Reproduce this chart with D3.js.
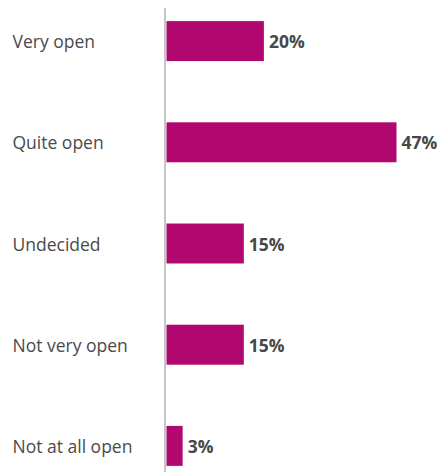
<!DOCTYPE html>
<html><head><meta charset="utf-8">
<script src="https://cdn.jsdelivr.net/npm/d3@7"></script>
<style>html,body{margin:0;padding:0;background:#fff;}</style>
</head><body>
<script>
const categories = ["Very open", "Quite open", "Undecided", "Not very open", "Not at all open"];
const values = [19.9, 47.0, 15.8, 15.8, 3.3];
const valueLabels = ["20%", "47%", "15%", "15%", "3%"];

const W = 441, H = 472;
const axisX = 165;
const svg = d3.select("body").append("svg").attr("width", W).attr("height", H);

const x = d3.scaleLinear().domain([0, 47]).range([axisX + 1.5, axisX + 1.5 + 230]);
const y = d3.scaleBand().domain(categories).range([-9.5, 496.5]).paddingInner(0.605).paddingOuter(0.3025);

const font = "'Open Sans', sans-serif";

svg.selectAll("rect.bar").data(categories).join("rect")
  .attr("class", "bar")
  .attr("x", x(0))
  .attr("y", d => y(d))
  .attr("width", (d, i) => x(values[i]) - x(0))
  .attr("height", y.bandwidth())
  .attr("fill", "#b0086e");

svg.append("line")
  .attr("x1", axisX).attr("x2", axisX)
  .attr("y1", 8).attr("y2", H)
  .attr("stroke", "#c6c6c6").attr("stroke-width", 2);

svg.selectAll("text.cat").data(categories).join("text")
  .attr("class", "cat")
  .attr("x", 12.5)
  .attr("y", d => y(d) + y.bandwidth() / 2 + 1)
  .attr("dy", "0.35em")
  .attr("font-family", font)
  .attr("font-size", 17.5)
  .attr("fill", "#4a4a4a")
  .text(d => d);

svg.selectAll("text.val").data(categories).join("text")
  .attr("class", "val")
  .attr("x", (d, i) => x(values[i]) + 5)
  .attr("y", d => y(d) + y.bandwidth() / 2 + 1)
  .attr("dy", "0.35em")
  .attr("font-family", font)
  .attr("font-size", 17.5)
  .attr("font-weight", "bold")
  .attr("fill", "#474747")
  .text((d, i) => valueLabels[i]);
</script>
</body></html>
